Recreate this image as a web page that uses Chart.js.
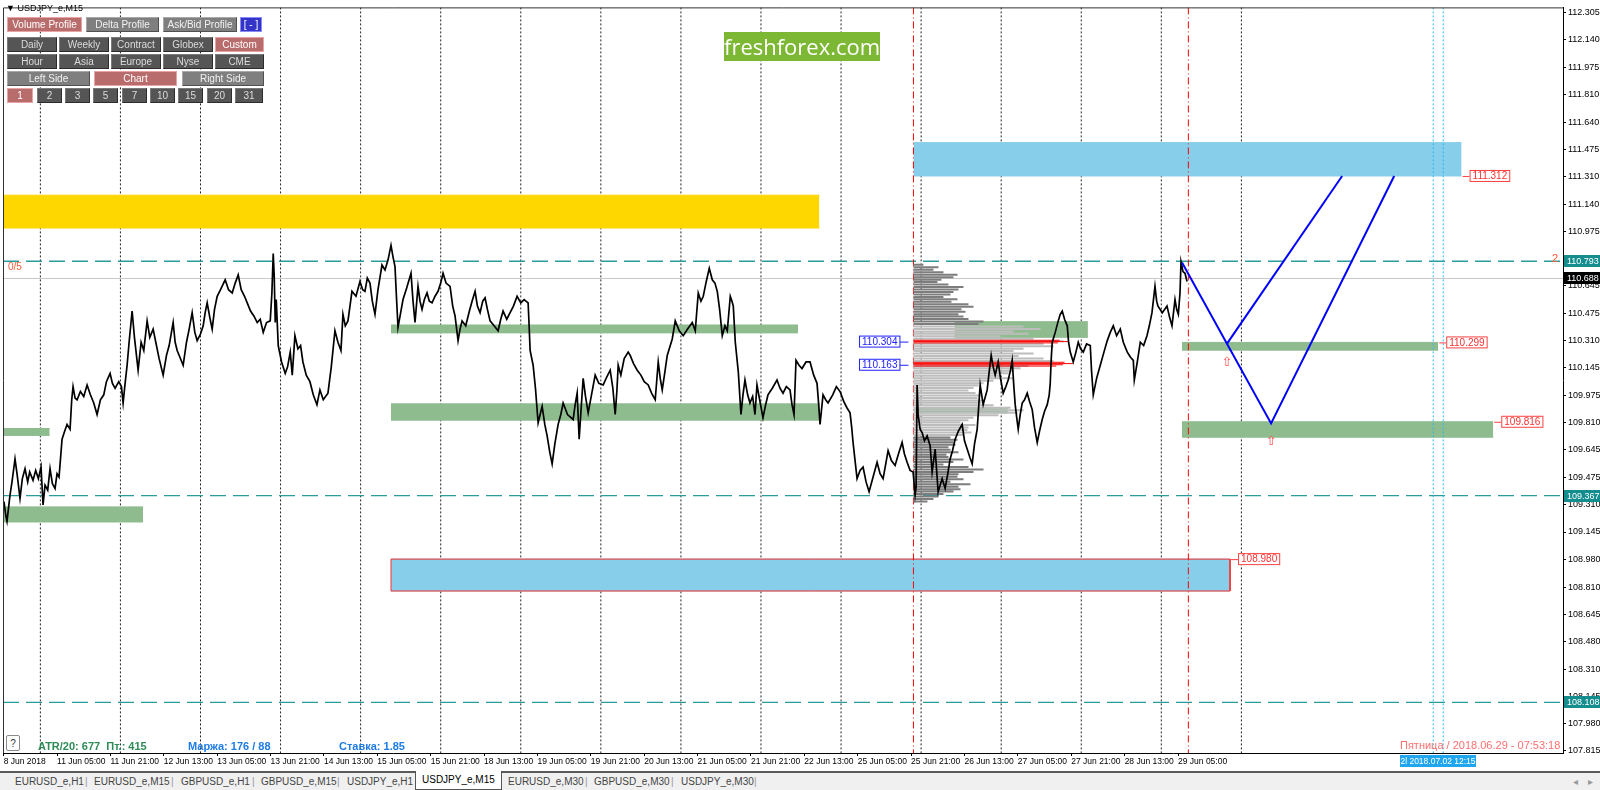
<!DOCTYPE html>
<html><head><meta charset="utf-8">
<script src="https://cdn.jsdelivr.net/npm/chart.js@4.4.1/dist/chart.umd.min.js"></script>
<style>
body{margin:0;width:1600px;height:790px;overflow:hidden;background:#fff;font-family:'Liberation Sans',Arial,sans-serif;}
#wrap{position:relative;width:1600px;height:790px;}
#c{position:absolute;left:0;top:0;}
.o{position:absolute;white-space:nowrap;}
.btn{position:absolute;height:15px;line-height:13px;font-size:10px;text-align:center;box-sizing:border-box;color:#dcdcdc;background:#555;border:1px solid #2c2c2c;border-top-color:#7a7a7a;border-left-color:#7a7a7a;}
.btn.g{background:#7f7f7f;color:#f2f2f2;border-color:#a8a8a8 #505050 #505050 #a8a8a8;}
.btn.r{background:#b86c6c;color:#fff;border:1px solid #e8a4a4;}
.btn.b{background:#3434c8;color:#fff;border:1px solid #8a8aff;}
#tabs{position:absolute;left:0;top:771px;width:1600px;height:19px;background:#f0f0f0;border-top:2px solid #5a5a5a;box-sizing:border-box;font-size:10px;color:#444;}
#tabs span{position:absolute;top:3px;}
#tabs .sep{color:#999;}
#tabs .act{top:-2px;height:18px;line-height:17px;background:#fff;border:1px solid #555;border-top:none;padding:0 6px;color:#000;}
</style></head>
<body><div id="wrap">
<canvas id="c" width="1600" height="790"></canvas>

<div class="o" style="left:6px;top:3px;font-size:9px;color:#000;">▼ USDJPY_e,M15</div>
<div class="btn r" style="left:7px;top:17px;width:75px;">Volume Profile</div>
<div class="btn g" style="left:86px;top:17px;width:73px;">Delta Profile</div>
<div class="btn g" style="left:163px;top:17px;width:74px;">Ask/Bid Profile</div>
<div class="btn b" style="left:240px;top:17px;width:22px;">[ - ]</div>

<div class="btn" style="left:7px;top:37px;width:50px;">Daily</div>
<div class="btn" style="left:59px;top:37px;width:50px;">Weekly</div>
<div class="btn" style="left:111px;top:37px;width:50px;">Contract</div>
<div class="btn" style="left:163px;top:37px;width:50px;">Globex</div>
<div class="btn r" style="left:215px;top:37px;width:49px;">Custom</div>

<div class="btn" style="left:7px;top:54px;width:50px;">Hour</div>
<div class="btn" style="left:59px;top:54px;width:50px;">Asia</div>
<div class="btn" style="left:111px;top:54px;width:50px;">Europe</div>
<div class="btn" style="left:163px;top:54px;width:50px;">Nyse</div>
<div class="btn" style="left:215px;top:54px;width:49px;">CME</div>

<div class="btn g" style="left:7px;top:71px;width:83px;">Left Side</div>
<div class="btn r" style="left:94px;top:71px;width:83px;">Chart</div>
<div class="btn g" style="left:182px;top:71px;width:82px;">Right Side</div>

<div class="btn r" style="left:7px;top:88px;width:26px;">1</div>
<div class="btn" style="left:37px;top:88px;width:25px;">2</div>
<div class="btn" style="left:65px;top:88px;width:25px;">3</div>
<div class="btn" style="left:93px;top:88px;width:25px;">5</div>
<div class="btn" style="left:122px;top:88px;width:25px;">7</div>
<div class="btn" style="left:150px;top:88px;width:25px;">10</div>
<div class="btn" style="left:178px;top:88px;width:25px;">15</div>
<div class="btn" style="left:207px;top:88px;width:25px;">20</div>
<div class="btn" style="left:235px;top:88px;width:28px;">31</div>

<div class="o" style="left:724px;top:32px;width:156px;height:29px;background:#7cb833;color:#fff;font-family:'Open Sans',sans-serif;font-size:22px;line-height:28px;text-align:center;">freshforex.com</div>

<div class="o" style="left:8px;top:261px;font-size:10px;color:#ff5a36;">0/5</div>
<div class="o" style="left:1552px;top:252px;font-size:11px;color:#ff5a36;">2</div>

<div class="o" style="left:6px;top:735px;width:14px;height:16px;border:1px solid #8a8a8a;border-radius:2px;background:#fff;font-size:10px;text-align:center;line-height:15px;color:#333;box-sizing:border-box;">?</div>
<div class="o" style="left:38px;top:740px;font-size:11px;font-weight:bold;color:#2e8b57;">ATR/20: 677&nbsp;&nbsp;Пт.: 415</div>
<div class="o" style="left:188px;top:740px;font-size:11px;font-weight:bold;color:#1e7be6;">Маржа: 176 / 88</div>
<div class="o" style="left:339px;top:740px;font-size:11px;font-weight:bold;color:#1e7be6;">Ставка: 1.85</div>
<div class="o" style="left:1400px;top:739px;font-size:11px;color:#ff6f6f;">Пятница / 2018.06.29 - 07:53:18</div>
<div class="o" style="left:1400px;top:755px;width:76px;height:12px;background:#1fa6ee;color:#fff;font-size:8.5px;line-height:12px;text-align:center;overflow:hidden;">2l 2018.07.02 12:15</div>

<div id="tabs">
<span style="left:15px">EURUSD_e,H1</span><span class="sep" style="left:85px">|</span>
<span style="left:94px">EURUSD_e,M15</span><span class="sep" style="left:171px">|</span>
<span style="left:181px">GBPUSD_e,H1</span><span class="sep" style="left:252px">|</span>
<span style="left:261px">GBPUSD_e,M15</span><span class="sep" style="left:337px">|</span>
<span style="left:347px">USDJPY_e,H1</span>
<span class="act" style="left:415px">USDJPY_e,M15</span>
<span style="left:508px">EURUSD_e,M30</span><span class="sep" style="left:585px">|</span>
<span style="left:594px">GBPUSD_e,M30</span><span class="sep" style="left:671px">|</span>
<span style="left:681px">USDJPY_e,M30</span><span class="sep" style="left:754px">|</span>
<span style="left:1573px;color:#999">◂</span><span style="left:1588px;color:#999">▸</span>
</div>
</div>
<script>
// ---------- data ----------
const xTickPos = [0,16,32,48,64,80,96,112,128,144,160,176,192,208,224,240,256,272,288,304,320,336,352];
const xTickLabels = ['8 Jun 2018','11 Jun 05:00','11 Jun 21:00','12 Jun 13:00','13 Jun 05:00','13 Jun 21:00','14 Jun 13:00','15 Jun 05:00','15 Jun 21:00','18 Jun 13:00','19 Jun 05:00','19 Jun 21:00','20 Jun 13:00','21 Jun 05:00','21 Jun 21:00','22 Jun 13:00','25 Jun 05:00','25 Jun 21:00','26 Jun 13:00','27 Jun 05:00','27 Jun 21:00','28 Jun 13:00','29 Jun 05:00'];
const yTicks = [112.305,112.140,111.975,111.810,111.640,111.475,111.310,111.140,110.975,110.810,110.645,110.475,110.310,110.145,109.975,109.810,109.645,109.475,109.310,109.145,108.980,108.810,108.645,108.480,108.310,108.145,107.980,107.815];

// price path (trading hours since 8 Jun 13:00, price)
const priceSeries = [[0.1,109.33],[0.6,109.25],[1.0,109.21],[1.5,109.30],[1.9,109.37],[2.5,109.45],[3.4,109.59],[4.0,109.50],[4.9,109.35],[5.6,109.47],[6.4,109.53],[7.2,109.45],[7.8,109.51],[8.8,109.46],[9.6,109.52],[10.4,109.47],[11.2,109.54],[11.8,109.31],[12.4,109.43],[13.2,109.40],[13.9,109.53],[14.6,109.44],[15.4,109.41],[16.0,109.50],[16.6,109.48],[17.5,109.71],[18.3,109.76],[19.0,109.80],[19.9,109.77],[20.4,109.95],[20.8,110.03],[21.4,109.96],[22.0,109.95],[23.0,110.00],[24.0,109.97],[25.0,110.04],[26.0,109.98],[27.0,109.93],[28.0,109.86],[29.0,109.95],[30.0,109.98],[30.8,110.06],[31.9,110.11],[32.6,110.05],[33.4,110.02],[34.5,110.06],[35.3,110.03],[35.8,109.93],[36.4,110.05],[37.0,110.16],[37.6,110.30],[38.5,110.49],[39.2,110.33],[40.3,110.13],[41.2,110.30],[42.0,110.25],[43.0,110.43],[43.8,110.33],[44.8,110.38],[45.6,110.30],[46.6,110.20],[47.8,110.10],[48.8,110.22],[49.6,110.28],[50.8,110.42],[51.4,110.30],[52.0,110.25],[52.8,110.21],[53.8,110.16],[54.8,110.30],[55.6,110.38],[56.5,110.48],[57.3,110.36],[58.0,110.31],[59.0,110.35],[59.8,110.40],[60.4,110.48],[61.0,110.54],[61.8,110.45],[62.5,110.38],[63.2,110.50],[64.0,110.58],[65.0,110.62],[66.4,110.68],[67.4,110.62],[68.5,110.60],[69.4,110.66],[70.3,110.71],[71.2,110.62],[72.2,110.58],[73.0,110.54],[74.0,110.49],[75.0,110.46],[76.0,110.42],[76.9,110.44],[77.8,110.36],[78.8,110.42],[79.9,110.43],[80.4,110.60],[80.8,110.84],[81.1,110.70],[81.4,110.42],[81.7,110.56],[82.3,110.28],[83.3,110.18],[84.4,110.11],[85.1,110.15],[85.9,110.24],[86.5,110.10],[87.3,110.34],[88.2,110.26],[89.0,110.28],[89.7,110.18],[90.7,110.10],[91.8,110.06],[92.8,109.98],[93.9,109.92],[94.8,110.01],[95.8,109.95],[97.2,109.99],[98.2,110.15],[99.3,110.37],[100.2,110.30],[101.1,110.25],[101.7,110.47],[102.4,110.40],[103.2,110.43],[104.4,110.61],[105.6,110.58],[106.8,110.67],[107.6,110.62],[108.3,110.61],[109.0,110.69],[109.8,110.66],[110.5,110.55],[111.3,110.47],[112.2,110.62],[113.4,110.77],[114.3,110.74],[115.2,110.80],[116.1,110.89],[116.7,110.82],[117.3,110.76],[117.8,110.55],[118.2,110.39],[119.0,110.48],[119.7,110.56],[120.8,110.63],[122.1,110.72],[122.7,110.55],[123.3,110.42],[124.2,110.64],[124.8,110.55],[125.4,110.50],[126.1,110.56],[126.9,110.60],[127.6,110.55],[128.4,110.54],[129.3,110.58],[130.2,110.61],[131.0,110.66],[131.7,110.72],[132.6,110.66],[133.8,110.64],[134.6,110.52],[135.3,110.46],[136.2,110.31],[136.8,110.38],[137.4,110.43],[138.5,110.40],[139.6,110.49],[140.4,110.55],[141.3,110.61],[142.0,110.52],[142.8,110.48],[143.6,110.55],[144.3,110.57],[145.0,110.50],[145.8,110.43],[147.0,110.40],[148.2,110.37],[149.0,110.44],[149.7,110.49],[150.8,110.44],[151.8,110.48],[152.8,110.52],[153.9,110.58],[155.0,110.54],[156.0,110.56],[157.2,110.54],[157.5,110.40],[157.8,110.25],[158.7,110.16],[159.4,110.02],[160.2,109.81],[161.4,109.91],[162.2,109.80],[162.9,109.73],[163.7,109.63],[164.4,109.56],[165.2,109.68],[166.2,109.80],[167.0,109.86],[167.7,109.93],[169.0,109.86],[170.7,109.83],[171.3,109.92],[171.9,109.99],[172.5,109.71],[173.1,109.90],[173.7,110.08],[174.4,109.97],[175.2,109.87],[176.2,109.98],[177.3,110.10],[178.4,110.05],[179.7,110.04],[180.8,110.09],[181.8,110.13],[182.6,110.02],[183.3,109.86],[183.8,110.00],[184.2,110.16],[185.0,110.10],[186.0,110.20],[187.2,110.24],[187.8,110.22],[188.8,110.17],[189.9,110.13],[191.0,110.10],[192.0,110.06],[193.2,110.04],[194.2,109.99],[195.3,109.95],[196.2,110.18],[196.8,110.08],[197.4,110.01],[198.2,110.12],[198.9,110.22],[200.4,110.32],[201.3,110.43],[202.5,110.37],[203.7,110.34],[205.0,110.38],[206.4,110.42],[207.3,110.37],[208.2,110.60],[209.0,110.55],[209.7,110.58],[210.6,110.67],[211.5,110.75],[212.4,110.68],[213.2,110.66],[213.9,110.61],[214.6,110.50],[215.4,110.34],[216.2,110.40],[216.9,110.37],[217.8,110.58],[218.3,110.55],[218.7,110.52],[219.3,110.30],[220.2,110.12],[221.0,109.86],[221.6,109.98],[222.2,110.07],[223.0,109.98],[223.7,109.93],[224.5,109.97],[225.2,109.86],[225.8,110.04],[226.6,109.95],[227.6,109.84],[228.4,109.92],[229.1,109.98],[230.4,110.02],[231.8,110.07],[232.7,110.02],[233.6,109.99],[234.6,110.03],[235.7,110.01],[236.3,109.92],[236.9,109.86],[237.5,110.19],[238.4,110.16],[239.3,110.14],[240.5,110.18],[241.7,110.18],[242.8,110.10],[243.8,110.05],[244.3,109.92],[244.7,109.80],[245.6,109.98],[246.4,109.95],[247.1,109.93],[248.5,109.98],[249.6,110.03],[250.7,110.00],[251.8,109.94],[252.8,109.90],[253.7,109.87],[254.2,109.78],[254.6,109.69],[255.2,109.58],[255.8,109.47],[256.7,109.52],[257.6,109.54],[258.5,109.45],[259.4,109.39],[260.6,109.48],[261.8,109.57],[262.7,109.50],[263.6,109.47],[264.4,109.56],[265.1,109.64],[266.1,109.58],[267.2,109.55],[268.2,109.62],[269.3,109.69],[270.0,109.62],[270.8,109.57],[271.7,109.52],[272.6,109.51],[273.2,109.37],[273.5,109.42],[273.8,110.04],[274.1,109.86],[274.7,109.77],[275.3,109.75],[276.0,109.70],[276.8,109.73],[277.7,109.67],[278.3,109.51],[279.2,109.65],[280.1,109.39],[280.7,109.43],[281.3,109.47],[282.2,109.41],[283.0,109.50],[283.7,109.59],[284.4,109.64],[285.2,109.71],[286.2,109.76],[287.3,109.80],[288.0,109.70],[288.8,109.65],[289.6,109.60],[290.3,109.56],[291.0,109.68],[291.8,109.77],[292.3,109.92],[292.7,110.04],[293.6,109.92],[294.8,110.01],[295.4,110.12],[296.0,110.22],[296.6,110.15],[297.2,110.10],[298.1,110.18],[298.8,110.08],[299.6,109.99],[300.4,110.03],[301.1,110.07],[301.8,110.13],[302.3,110.19],[302.8,110.03],[303.2,109.92],[303.6,109.85],[304.1,109.77],[304.7,109.86],[305.3,109.93],[306.0,109.95],[306.8,109.99],[307.5,109.94],[308.3,109.89],[309.0,109.78],[309.8,109.69],[310.5,109.76],[311.3,109.83],[312.0,109.88],[312.8,109.92],[313.4,109.98],[313.7,110.05],[314.0,110.20],[314.3,110.30],[315.2,110.36],[316.1,110.43],[316.7,110.47],[317.3,110.49],[318.0,110.44],[318.8,110.40],[319.2,110.30],[319.7,110.24],[320.6,110.18],[321.4,110.24],[322.1,110.30],[322.8,110.26],[323.6,110.24],[324.6,110.29],[325.7,110.28],[326.1,110.12],[326.6,109.98],[327.6,110.08],[328.7,110.16],[329.8,110.24],[330.8,110.31],[331.7,110.36],[332.6,110.40],[333.6,110.34],[334.7,110.38],[335.6,110.30],[336.8,110.24],[337.7,110.21],[338.6,110.19],[338.9,110.07],[339.8,110.18],[340.7,110.30],[341.7,110.28],[342.7,110.34],[343.4,110.40],[344.2,110.48],[345.1,110.64],[345.6,110.55],[346.0,110.52],[347.3,110.48],[348.7,110.52],[349.5,110.45],[350.2,110.40],[351.1,110.56],[351.6,110.50],[352.1,110.47],[352.6,110.60],[352.9,110.79],[353.5,110.73],[354.1,110.72],[354.7,110.67]];

// volume profile (25 Jun 21:45 onwards): rows from top level downward
const vpTopLevel = 110.771, vpStep = 0.015, vpStart = 272.7;
const vpVolumes = [10,25,20,30,44,40,28,24,35,50,45,40,37,30,44,38,55,60,48,52,45,50,55,70,65,
 110,127,100,115,87,120,150,130,140,110,100,120,105,130,140,135,115,107,100,95,87,100,80,70,65,60,55,62,67,64,70,68,80,97,110,104,85,60,55,47,62,55,54,58,50,
 37,44,40,42,35,37,45,33,35,50,40,30,55,70,60,45,44,50,37,57,45,47,40,30,25,20,14];
const vpValueAreaFirst = 25, vpValueAreaLast = 69;
const vpRedLevels = [110.312,110.304,110.296,110.178,110.170,110.163,110.155];
const vpRedEnds   = [316.5,319.0,316.0,318.0,320.5,317.5,315.5];

// zones [t0, t1, top, bottom]
const yellowZones = [[-0.2,244.5,111.195,110.995]];
const blueZones   = [[272.7,437.0,111.515,111.312],[116.1,367.6,108.980,108.786]];
const greenZones  = [[-0.2,13.8,109.775,109.733],[-0.2,41.8,109.298,109.206],[116.1,238.1,110.405,110.357],[116.1,244.6,109.925,109.826],[285.0,325.0,110.425,110.330],[273.0,301.0,109.895,109.870],[353.2,430.0,110.299,110.252],[353.2,446.5,109.816,109.722]];

const levelLines = [110.793,109.367,108.108];
const bidPrice = 110.688;
const daySeparators = [11,35,59,83,107,131,155,179,203,227,251,275,299,323,347,371];
const rangeMarks = [272.7,355.1];
const futureMarks = [428.5,431.5];
const forecastA = [[353.2,110.785],[379.9,109.806],[416.8,111.312]];
const forecastB = [[366.7,110.292],[401.2,111.312]];
const arrowMarks = [[366.7,110.175],[379.9,109.695]];
const rightTags = [[437.0,111.312,'111.312'],[430.0,110.299,'110.299'],[446.5,109.816,'109.816'],[367.6,108.980,'108.980']];
const vpTags = [[110.304,'110.304'],[110.163,'110.163']];

const FONT = "'Liberation Sans', Arial, sans-serif";

// ---------- build ----------
const Y_MIN = 107.800, Y_MAX = 112.338, X_MIN = -0.2, X_MAX = 467.4;
const pts = a => a.map(p => ({x:p[0], y:p[1]}));
function segs(list){ const out=[]; list.forEach(s=>{ s.forEach(p=>out.push({x:p[0],y:p[1]})); out.push({x:s[s.length-1][0],y:null}); }); return out; }
const base = {pointRadius:0, tension:0, fill:false, borderWidth:1};
const datasets = [];

datasets.push({...base, label:'price', data:pts(priceSeries), borderColor:'#000', borderWidth:1.7, order:1});
datasets.push({...base, label:'fcA', data:pts(forecastA), borderColor:'#0000ff', borderWidth:2, order:0});
datasets.push({...base, label:'fcB', data:pts(forecastB), borderColor:'#0000ff', borderWidth:2, order:0});

const darkRows=[], lightRows=[];
vpVolumes.forEach((v,i)=>{ const lv = vpTopLevel - i*vpStep; const s=[[vpStart,lv],[vpStart+v*0.3,lv]]; (i>=vpValueAreaFirst && i<=vpValueAreaLast ? lightRows : darkRows).push(s); });
datasets.push({...base, label:'vpDark', data:segs(darkRows), borderColor:'#7d7d7d', borderWidth:2, order:3});
datasets.push({...base, label:'vpLight', data:segs(lightRows), borderColor:'#bdbdbd', borderWidth:2, order:3});
datasets.push({...base, label:'vpRed', data:segs(vpRedLevels.map((l,i)=>[[vpStart,l],[vpRedEnds[i],l]])), borderColor:'#ff0000', borderWidth:1, order:2});

levelLines.forEach(l=>datasets.push({...base, data:pts([[X_MIN,l],[X_MAX,l]]), borderColor:'#2a9c9c', borderWidth:1.3, borderDash:[16,7], order:6}));
datasets.push({...base, data:pts([[X_MIN,bidPrice],[X_MAX,bidPrice]]), borderColor:'#c8c8c8', borderWidth:1, order:7});

datasets.push({...base, data:segs(daySeparators.map(t=>[[t,Y_MAX],[t,Y_MIN]])), borderColor:'#222', borderWidth:1, borderDash:[2,2], order:30});
datasets.push({...base, data:segs(rangeMarks.map(t=>[[t,Y_MAX],[t,Y_MIN]])), borderColor:'#ff0000', borderWidth:1, borderDash:[7,3,1,3], order:5});
datasets.push({...base, data:segs(futureMarks.map(t=>[[t,Y_MAX],[t,Y_MIN]])), borderColor:'#2ab8f0', borderWidth:1, borderDash:[2,2], order:5});

function zone(z,color,order){
  datasets.push({...base, data:pts([[z[0],z[2]],[z[1],z[2]]]), borderColor:color, backgroundColor:color, fill:'+1', order});
  datasets.push({...base, data:pts([[z[0],z[3]],[z[1],z[3]]]), borderColor:color, order});
}
yellowZones.forEach(z=>zone(z,'#ffd700',20));
blueZones.forEach(z=>zone(z,'#87ceeb',20));
greenZones.forEach(z=>zone(z,'#8fbc8f',19));
const bz = blueZones[1];
datasets.push({...base, data:pts([[bz[0],bz[2]],[bz[1],bz[2]],[bz[1],bz[3]],[bz[0],bz[3]],[bz[0],bz[2]]]), borderColor:'#ff3030', borderWidth:1, order:18});

const overlay = {
  id:'overlay',
  afterDatasetsDraw(chart){
    const ctx=chart.ctx, xs=chart.scales.x, ys=chart.scales.y;
    ctx.save();
    ctx.font = '10px '+FONT; ctx.textBaseline='middle';
    rightTags.forEach(([t,p,txt])=>{
      const x=xs.getPixelForValue(t), y=ys.getPixelForValue(p);
      ctx.strokeStyle='#ff4040'; ctx.lineWidth=1;
      ctx.beginPath(); ctx.moveTo(x+1,y+0.5); ctx.lineTo(x+8,y+0.5); ctx.stroke();
      const w=ctx.measureText(txt).width+5;
      ctx.fillStyle='#fff'; ctx.fillRect(x+8,y-6,w,12);
      ctx.strokeRect(x+8.5,y-5.5,w,11);
      ctx.fillStyle='#ff3030'; ctx.fillText(txt,x+11,y+0.5);
    });
    vpTags.forEach(([p,txt])=>{
      const x=xs.getPixelForValue(vpStart), y=ys.getPixelForValue(p);
      const w=ctx.measureText(txt).width+5;
      ctx.strokeStyle='#2020ff'; ctx.lineWidth=1;
      ctx.beginPath(); ctx.moveTo(x-14,y+0.5); ctx.lineTo(x-5,y+0.5); ctx.stroke();
      ctx.fillStyle='#fff'; ctx.fillRect(x-14-w,y-6,w,12);
      ctx.strokeRect(x-13.5-w,y-5.5,w,11);
      ctx.fillStyle='#2020ff'; ctx.fillText(txt,x-11-w,y+0.5);
    });
    ctx.fillStyle='#ff5050'; ctx.font='13px DejaVu Sans'; ctx.textAlign='center';
    arrowMarks.forEach(([t,p])=>ctx.fillText('⇧',xs.getPixelForValue(t),ys.getPixelForValue(p)));
    ctx.restore();
  },
  afterDraw(chart){
    const ctx=chart.ctx, ys=chart.scales.y, a=chart.chartArea;
    ctx.save();
    ctx.strokeStyle='#333'; ctx.lineWidth=1;
    ctx.beginPath(); ctx.moveTo(a.left+0.5,a.bottom); ctx.lineTo(a.left+0.5,a.top+0.5); ctx.lineTo(a.right,a.top+0.5); ctx.stroke();
    ctx.font='9px '+FONT; ctx.textBaseline='middle';
    [[levelLines[0],'#138d8d'],[bidPrice,'#000'],[levelLines[1],'#138d8d'],[levelLines[2],'#138d8d']].forEach(([v,c])=>{
      const y=Math.round(ys.getPixelForValue(v));
      ctx.fillStyle=c; ctx.fillRect(a.right+1,y-6,36,12);
      ctx.fillStyle='#fff'; ctx.fillText(v.toFixed(3),a.right+4,y+0.5);
    });
    ctx.restore();
  }
};

new Chart(document.getElementById('c'), {
  type:'line',
  data:{datasets},
  options:{
    responsive:false, animation:false, devicePixelRatio:1,
    layout:{padding:{left:3,top:2,right:0,bottom:0}},
    plugins:{legend:{display:false}, tooltip:{enabled:false}, filler:{propagate:false}},
    scales:{
      x:{type:'linear', min:X_MIN, max:X_MAX,
        afterBuildTicks:s=>{s.ticks=xTickPos.map(v=>({value:v}));},
        afterFit:s=>{s.height=37;},
        grid:{display:true, drawOnChartArea:false, tickLength:3, color:'#000'},
        border:{display:true, color:'#000'},
        ticks:{autoSkip:false, maxRotation:0, minRotation:0, align:'start', padding:1, color:'#000', font:{size:8.5, family:FONT}, callback:(v,i)=>xTickLabels[i]}},
      y:{type:'linear', position:'right', min:Y_MIN, max:Y_MAX,
        afterBuildTicks:s=>{s.ticks=yTicks.map(v=>({value:v}));},
        afterFit:s=>{s.width=37;},
        grid:{display:true, drawOnChartArea:false, tickLength:3, color:'#000'},
        border:{display:true, color:'#000'},
        ticks:{autoSkip:false, padding:2, color:'#000', font:{size:9, family:FONT}, callback:v=>Number(v).toFixed(3)}}
    }
  },
  plugins:[overlay]
});
</script>
</body></html>
